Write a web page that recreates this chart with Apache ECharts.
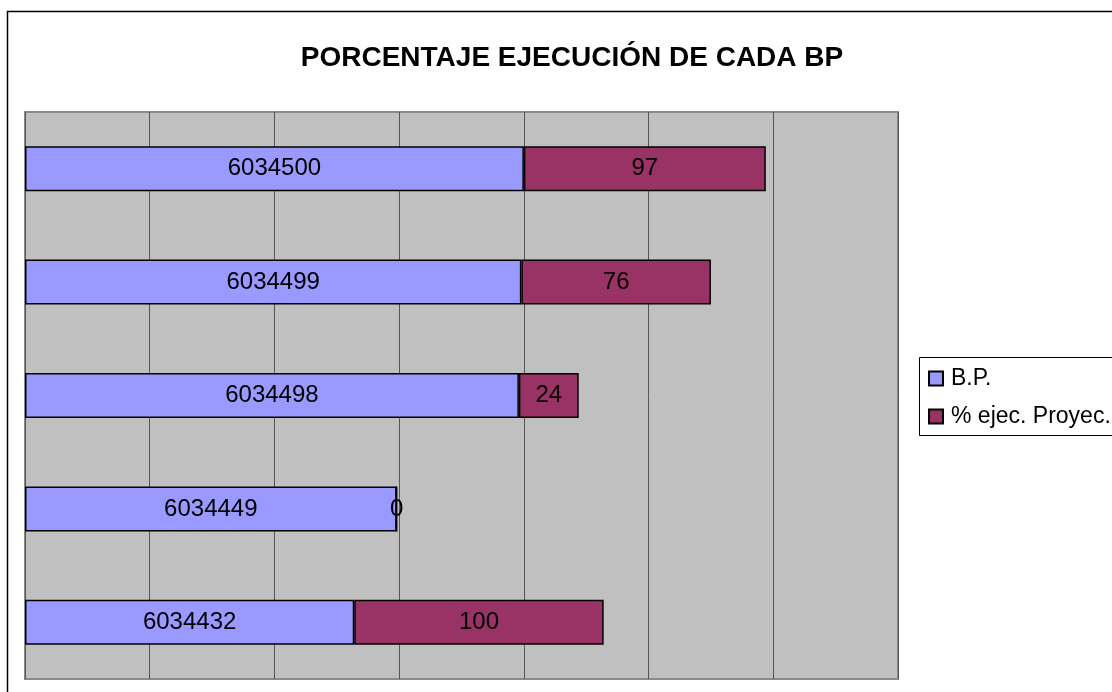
<!DOCTYPE html>
<html>
<head>
<meta charset="utf-8">
<script src="https://cdn.jsdelivr.net/npm/echarts@6/dist/echarts.min.js"></script>
<style>
html,body{margin:0;padding:0;background:#fff;}
#c{width:1112px;height:692px;}
</style>
</head>
<body>
<div id="c"></div>
<script>
var categories = ['6034500', '6034499', '6034498', '6034449', '6034432'];
var bpValues = [6034500, 6034499, 6034498, 6034449, 6034432];
var ejecValues = [97, 76, 24, 0, 100];
var seriesNames = ['B.P.', '% ejec. Proyec.'];
var axisMin = 6034300, axisMax = 6034650, axisStep = 50;

var FONT = '"Liberation Sans", Arial, sans-serif';
var chart = echarts.init(document.getElementById('c'));
var labelCfg = {
  show: true, position: 'inside', color: '#000', fontSize: 24, fontFamily: FONT,
  formatter: function (p) { return String(p.value); }
};
chart.setOption({
  animation: false,
  backgroundColor: '#fff',
  title: {
    text: 'PORCENTAJE EJECUCIÓN DE CADA BP',
    left: 567, top: 53, textAlign: 'center', textVerticalAlign: 'middle',
    textStyle: { fontSize: 28, fontWeight: 'bold', color: '#000', fontFamily: FONT }
  },
  graphic: [
    { type: 'rect', shape: { x: 7.5, y: 11.5, width: 1200, height: 800 }, style: { fill: 'none', stroke: '#000', lineWidth: 1.5 }, z: -1 },
    { type: 'rect', shape: { x: 919.5, y: 357.5, width: 300, height: 78 }, style: { fill: '#fff', stroke: '#000', lineWidth: 1 }, z: 0 }
  ],
  legend: {
    orient: 'vertical', left: 928, top: 367,
    itemWidth: 14, itemHeight: 14, itemGap: 15, padding: 0,
    icon: 'rect',
    textStyle: { fontSize: 23, color: '#000', fontFamily: FONT, padding: [0, 0, 0, 3] },
    z: 5
  },
  grid: {
    left: 25, top: 112, width: 873, height: 567,
    show: true, backgroundColor: '#C0C0C0', borderColor: '#8a8a8a', borderWidth: 2
  },
  xAxis: {
    type: 'value', min: axisMin, max: axisMax, interval: axisStep, startValue: axisMin,
    axisLabel: { show: false }, axisTick: { show: false }, axisLine: { show: false },
    splitLine: { show: true, lineStyle: { color: '#555', width: 1 } }
  },
  yAxis: {
    type: 'category', data: categories, inverse: true,
    axisLabel: { show: false }, axisTick: { show: false }, axisLine: { show: false },
    splitLine: { show: false }
  },
  series: [
    {
      name: seriesNames[0], type: 'bar', stack: 'a', data: bpValues, barWidth: 45,
      itemStyle: { color: '#9999FF', borderColor: '#000', borderWidth: 1.5 },
      label: labelCfg
    },
    {
      name: seriesNames[1], type: 'bar', stack: 'a', data: ejecValues, barWidth: 45,
      itemStyle: { color: '#993366', borderColor: '#000', borderWidth: 1.5 },
      label: labelCfg
    }
  ]
});
</script>
</body>
</html>
